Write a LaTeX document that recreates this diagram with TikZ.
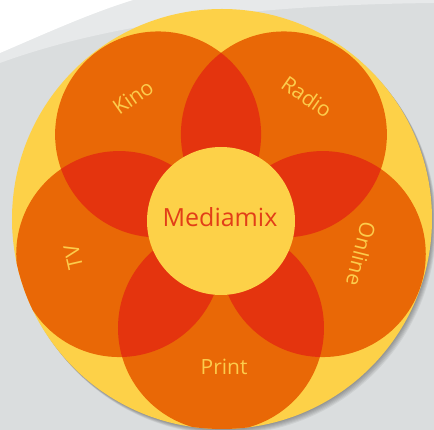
\documentclass[tikz,border=0pt]{standalone}
\usepackage{fontspec}
\setmainfont{Open Sans}
\definecolor{mixyellow}{RGB}{253,209,72}
\definecolor{mixorange}{RGB}{233,104,6}
\definecolor{mixred}{RGB}{228,52,14}
\definecolor{mixtext}{RGB}{226,62,24}
\definecolor{lbltext}{RGB}{252,204,76}
\definecolor{bggray}{RGB}{218,221,222}
\definecolor{bgband}{RGB}{231,233,234}
\tikzset{
  lbl/.style={text=lbltext,font=\fontsize{21}{21}\selectfont},
  mixlbl/.style={text=mixtext,font=\fontsize{25}{25}\selectfont}
}
\begin{document}
\begin{tikzpicture}[x=1pt,y=1pt]
\useasboundingbox (-221,-209) rectangle (213,221);
% background
\fill[bggray] (-221,-209) rectangle (213,221);
\fill[bgband] (-221,158) .. controls (-120,195) and (20,216) .. (213,218)
       -- (213,221) -- (-221,221) -- cycle;
\fill[white] (-221,168) .. controls (-170,190) and (-130,208) .. (-88,221)
       -- (-221,221) -- cycle;

% shadow
\foreach \s in {1,...,6}
\fill[black,opacity=0.06] (1+\s*0.7,2-\s*0.9) circle (210);

\fill[mixyellow] (1,2) circle (210);

\begin{scope}
\clip (1,2) circle (210);
\foreach \a in {126,54,-18,-90,198}
\fill[mixorange] (\a:107) circle (103);

\foreach \a/\b in {126/54,54/-18,-18/-90,-90/198,198/126}
{
\begin{scope}
\clip (\a:107) circle (103);
\fill[mixred] (\b:107) circle (103);
\end{scope}
}
\end{scope}

\fill[mixyellow] (0,0) circle (74);
\node[mixlbl] (mix) at (-1,4) {Mediamix};

\foreach \a/\r/\rot/\t/\n in {125.4/152/35/Kino/kino,55.3/151/-35/Radio/radio,
  -13.3/144/-104/Online/online,-88.8/146/0/Print/print,193.7/152/103/TV/tv}
\node[lbl,rotate=\rot] (\n) at (\a:\r) {\t};
\end{tikzpicture}
\end{document}
